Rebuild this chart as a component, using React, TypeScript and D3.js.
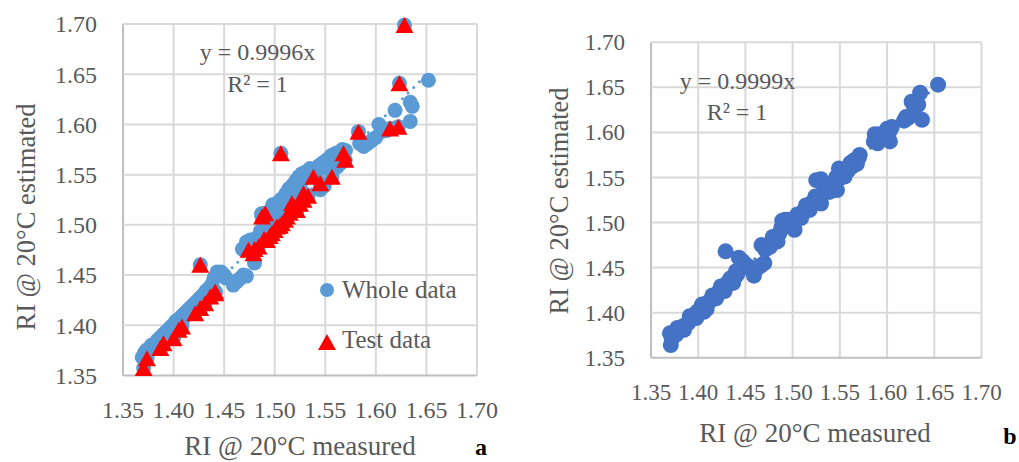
import React from "react";
import * as d3 from "d3";

// ---------- DATA ----------
const ticks = [1.35, 1.4, 1.45, 1.5, 1.55, 1.6, 1.65, 1.7];
const tickLabels = ["1.35", "1.40", "1.45", "1.50", "1.55", "1.60", "1.65", "1.70"];

// Chart a: training part of whole data (blue circles)
const trainA_x = [1.369, 1.371, 1.373, 1.376, 1.378, 1.381, 1.384, 1.387, 1.39, 1.393, 1.396, 1.399, 1.402, 1.405, 1.408, 1.411, 1.414, 1.417, 1.42, 1.423, 1.426, 1.429, 1.432, 1.435, 1.438, 1.44, 1.443, 1.447, 1.45, 1.452, 1.459, 1.462, 1.465, 1.469, 1.472, 1.468, 1.472, 1.476, 1.48, 1.478, 1.482, 1.486, 1.487, 1.49, 1.494, 1.497, 1.5, 1.504, 1.507, 1.511, 1.514, 1.518, 1.521, 1.524, 1.527, 1.531, 1.535, 1.54, 1.544, 1.548, 1.552, 1.545, 1.549, 1.556, 1.56, 1.563, 1.567, 1.57, 1.562, 1.566, 1.584, 1.588, 1.592, 1.596, 1.6, 1.603, 1.606, 1.611, 1.619, 1.634, 1.636, 1.634, 1.652, 1.407,
  1.498, 1.502, 1.509, 1.513, 1.516, 1.52, 1.526, 1.529, 1.533, 1.538, 1.542, 1.546, 1.55, 1.554, 1.558,
  1.374, 1.38, 1.386, 1.392, 1.398, 1.404, 1.41, 1.416, 1.422, 1.428, 1.434];
const trainA_y = [1.368, 1.372, 1.375, 1.377, 1.38, 1.381, 1.385, 1.388, 1.391, 1.394, 1.397, 1.4, 1.404, 1.406, 1.409, 1.412, 1.415, 1.418, 1.421, 1.424, 1.427, 1.43, 1.434, 1.437, 1.441, 1.447, 1.453, 1.453, 1.45, 1.447, 1.44, 1.443, 1.446, 1.45, 1.449, 1.476, 1.483, 1.485, 1.462, 1.478, 1.487, 1.494, 1.511, 1.501, 1.507, 1.514, 1.517, 1.523, 1.526, 1.531, 1.536, 1.54, 1.544, 1.548, 1.551, 1.553, 1.556, 1.555, 1.559, 1.562, 1.565, 1.535, 1.539, 1.569, 1.571, 1.572, 1.575, 1.574, 1.558, 1.562, 1.581, 1.578, 1.581, 1.584, 1.587, 1.6, 1.593, 1.594, 1.614, 1.622, 1.618, 1.603, 1.644, 1.4,
  1.52, 1.513, 1.519, 1.526, 1.531, 1.536, 1.543, 1.546, 1.548, 1.551, 1.553, 1.557, 1.558, 1.56, 1.563,
  1.371, 1.378, 1.384, 1.39, 1.396, 1.401, 1.407, 1.413, 1.419, 1.426, 1.432];

// Chart a: test data (red triangles; also part of whole data)
const testA_x = [1.3704, 1.3737, 1.3869, 1.39, 1.4, 1.405, 1.4083, 1.4214, 1.4264, 1.4313, 1.4363, 1.4412, 1.4412, 1.4264, 1.4741, 1.479, 1.48, 1.484, 1.4874, 1.4906, 1.4895, 1.4923, 1.495, 1.4972, 1.5, 1.5022, 1.505, 1.5071, 1.51, 1.512, 1.515, 1.517, 1.52, 1.5219, 1.525, 1.5285, 1.5285, 1.533, 1.5383, 1.545, 1.5565, 1.5061, 1.568, 1.5697, 1.5828, 1.614, 1.6223, 1.6233, 1.6283];
const testA_y = [1.3574, 1.3673, 1.3773, 1.3822, 1.3872, 1.3955, 1.3988, 1.4121, 1.4171, 1.422, 1.4286, 1.4336, 1.432, 1.4602, 1.4751, 1.4718, 1.476, 1.4784, 1.5082, 1.5116, 1.486, 1.485, 1.489, 1.4917, 1.495, 1.4983, 1.499, 1.5016, 1.505, 1.5082, 1.512, 1.5215, 1.518, 1.5149, 1.521, 1.5249, 1.5315, 1.529, 1.548, 1.5414, 1.548, 1.5713, 1.5713, 1.5648, 1.5928, 1.596, 1.5978, 1.6409, 1.699];

// Chart b: whole data
const wholeB_x = [1.37, 1.371, 1.372, 1.375, 1.377, 1.38, 1.383, 1.386, 1.389, 1.392, 1.395, 1.398, 1.4, 1.403, 1.406, 1.408, 1.411, 1.414, 1.417, 1.42, 1.423, 1.426, 1.429, 1.432, 1.435, 1.438, 1.441, 1.443, 1.429, 1.443, 1.447, 1.451, 1.455, 1.459, 1.462, 1.466, 1.47, 1.467, 1.471, 1.474, 1.477, 1.48, 1.483, 1.486, 1.488, 1.489, 1.492, 1.494, 1.497, 1.5, 1.502, 1.504, 1.507, 1.51, 1.513, 1.516, 1.519, 1.522, 1.525, 1.53, 1.528, 1.53, 1.532, 1.535, 1.538, 1.541, 1.544, 1.547, 1.549, 1.55, 1.553, 1.556, 1.559, 1.561, 1.564, 1.567, 1.57, 1.571, 1.587, 1.586, 1.59, 1.594, 1.598, 1.603, 1.605, 1.603, 1.618, 1.622, 1.625, 1.626, 1.63, 1.635, 1.637, 1.633, 1.654,
  1.378, 1.385, 1.391, 1.397, 1.404, 1.409, 1.415, 1.419, 1.424, 1.428, 1.434, 1.437, 1.44, 1.476, 1.479, 1.484, 1.491, 1.496, 1.505, 1.509, 1.514, 1.518, 1.524, 1.527, 1.536, 1.539, 1.546, 1.552, 1.555, 1.56, 1.565, 1.568, 1.592, 1.6, 1.62, 1.628];
const wholeB_y = [1.377, 1.364, 1.371, 1.378, 1.376, 1.381, 1.384, 1.386, 1.388, 1.392, 1.396, 1.394, 1.402, 1.404, 1.401, 1.409, 1.412, 1.414, 1.418, 1.421, 1.425, 1.427, 1.431, 1.434, 1.436, 1.438, 1.442, 1.446, 1.468, 1.461, 1.457, 1.453, 1.45, 1.441, 1.449, 1.452, 1.455, 1.475, 1.47, 1.474, 1.478, 1.481, 1.483, 1.488, 1.494, 1.502, 1.503, 1.496, 1.498, 1.5, 1.492, 1.504, 1.508, 1.511, 1.513, 1.517, 1.521, 1.522, 1.547, 1.548, 1.528, 1.521, 1.533, 1.535, 1.539, 1.541, 1.543, 1.536, 1.56, 1.549, 1.552, 1.555, 1.558, 1.566, 1.563, 1.567, 1.572, 1.575, 1.598, 1.59, 1.588, 1.593, 1.596, 1.602, 1.606, 1.59, 1.613, 1.616, 1.619, 1.634, 1.627, 1.644, 1.614, 1.631, 1.653,
  1.383, 1.381, 1.396, 1.399, 1.409, 1.404, 1.419, 1.416, 1.429, 1.424, 1.438, 1.433, 1.446, 1.473, 1.484, 1.479, 1.497, 1.503, 1.509, 1.505, 1.519, 1.514, 1.529, 1.523, 1.54, 1.534, 1.55, 1.557, 1.551, 1.562, 1.569, 1.565, 1.598, 1.604, 1.617, 1.622];

const slopeA = 0.9996;
const slopeB = 0.9999;
const trendRange = [1.368, 1.653];

// ---------- STYLE ----------
const FONT = "'Liberation Serif', 'Times New Roman', serif";
const TEXT = "#595959";
const GRID = "#D9D9D9";
const AXIS = "#BFBFBF";
const BLUE_A = "#5B9BD5";
const BLUE_B = "#4472C4";
const RED = "#FF0000";

const tri = (cx: number, cy: number, w = 18, h = 16) =>
  `M${cx},${cy - h / 2}L${cx + w / 2},${cy + h / 2}L${cx - w / 2},${cy + h / 2}Z`;

type PanelProps = {
  x0: number; x1: number; y0: number; y1: number;
  yLabelRight: number; xLabelBase: number;
  xTitleX: number; xTitleY: number; yTitleX: number; yTitleY: number;
  tickSize: number;
  children: (sx: d3.ScaleLinear<number, number>, sy: d3.ScaleLinear<number, number>) => React.ReactNode;
};

function Panel(p: PanelProps) {
  const sx = d3.scaleLinear().domain([1.35, 1.7]).range([p.x0, p.x1]);
  const sy = d3.scaleLinear().domain([1.35, 1.7]).range([p.y1, p.y0]);
  return (
    <g>
      {ticks.map((t, i) => (
        <line key={"gx" + i} x1={sx(t)} x2={sx(t)} y1={p.y0} y2={p.y1} stroke={i === 0 ? AXIS : GRID} strokeWidth={2} />
      ))}
      {ticks.map((t, i) => (
        <line key={"gy" + i} x1={p.x0} x2={p.x1} y1={sy(t)} y2={sy(t)} stroke={i === 0 ? AXIS : GRID} strokeWidth={2} />
      ))}
      {p.children(sx, sy)}
      {ticks.map((t, i) => (
        <text key={"ty" + i} x={p.yLabelRight} y={sy(t)} dy="0.35em" textAnchor="end" fontFamily={FONT} fontSize={p.tickSize} fill={TEXT}>
          {tickLabels[i]}
        </text>
      ))}
      {ticks.map((t, i) => (
        <text key={"tx" + i} x={sx(t)} y={p.xLabelBase} textAnchor="middle" fontFamily={FONT} fontSize={p.tickSize} fill={TEXT}>
          {tickLabels[i]}
        </text>
      ))}
      <text x={p.xTitleX} y={p.xTitleY} textAnchor="middle" fontFamily={FONT} fontSize={27} fill={TEXT}>
        RI @ 20°C measured
      </text>
      <text transform={`translate(${p.yTitleX},${p.yTitleY}) rotate(-90)`} textAnchor="middle" fontFamily={FONT} fontSize={26.5} fill={TEXT}>
        RI @ 20°C estimated
      </text>
    </g>
  );
}

export default function App() {
  const wholeA_x = [...trainA_x, ...testA_x];
  const wholeA_y = [...trainA_y, ...testA_y];
  return (
    <svg width={1019} height={462} style={{ position: "absolute", left: 0, top: 0, background: "#fff" }}>
      <rect width={1019} height={462} fill="#fff" />
      {/* Chart a */}
      <Panel x0={123} x1={477} y0={24} y1={375.5} yLabelRight={97} xLabelBase={418}
        xTitleX={300} xTitleY={455} yTitleX={35} yTitleY={217} tickSize={24}>
        {(sx, sy) => (
          <g>
            {wholeA_x.map((x, i) => (
              <circle key={"a" + i} cx={sx(x)} cy={sy(wholeA_y[i])} r={7.5} fill={BLUE_A} />
            ))}
            <line x1={sx(trendRange[0])} y1={sy(trendRange[0] * slopeA)} x2={sx(trendRange[1])} y2={sy(trendRange[1] * slopeA)}
              stroke={BLUE_A} strokeWidth={3} strokeDasharray="0 8" strokeLinecap="round" />
            {testA_x.map((x, i) => (
              <path key={"t" + i} d={tri(sx(x), sy(testA_y[i]))} fill={RED} />
            ))}
            <text x={257.5} y={60} textAnchor="middle" fontFamily={FONT} fontSize={24} fill={TEXT}>y = 0.9996x</text>
            <text x={257.5} y={91.5} textAnchor="middle" fontFamily={FONT} fontSize={24} fill={TEXT}>R² = 1</text>
            <circle cx={327} cy={290} r={7} fill={BLUE_A} />
            <text x={342} y={298} fontFamily={FONT} fontSize={25} fill={TEXT}>Whole data</text>
            <path d={tri(327, 342)} fill={RED} />
            <text x={342} y={348} fontFamily={FONT} fontSize={25} fill={TEXT}>Test data</text>
          </g>
        )}
      </Panel>
      <text x={481} y={455} textAnchor="middle" fontFamily={FONT} fontWeight="bold" fontSize={24} fill="#000">a</text>

      {/* Chart b */}
      <Panel x0={651} x1={981.5} y0={42.3} y1={357.7} yLabelRight={625} xLabelBase={400}
        xTitleX={815} xTitleY={442} yTitleX={568} yTitleY={201} tickSize={23}>
        {(sx, sy) => (
          <g>
            {wholeB_x.map((x, i) => (
              <circle key={"b" + i} cx={sx(x)} cy={sy(wholeB_y[i])} r={8} fill={BLUE_B} />
            ))}
            <line x1={sx(trendRange[0])} y1={sy(trendRange[0] * slopeB)} x2={sx(trendRange[1])} y2={sy(trendRange[1] * slopeB)}
              stroke={BLUE_B} strokeWidth={3} strokeDasharray="0 8" strokeLinecap="round" />
            <text x={737.5} y={89} textAnchor="middle" fontFamily={FONT} fontSize={24} fill={TEXT}>y = 0.9999x</text>
            <text x={737} y={120} textAnchor="middle" fontFamily={FONT} fontSize={24} fill={TEXT}>R² = 1</text>
          </g>
        )}
      </Panel>
      <text x={1010} y={444} textAnchor="middle" fontFamily={FONT} fontWeight="bold" fontSize={24} fill="#000">b</text>
    </svg>
  );
}
